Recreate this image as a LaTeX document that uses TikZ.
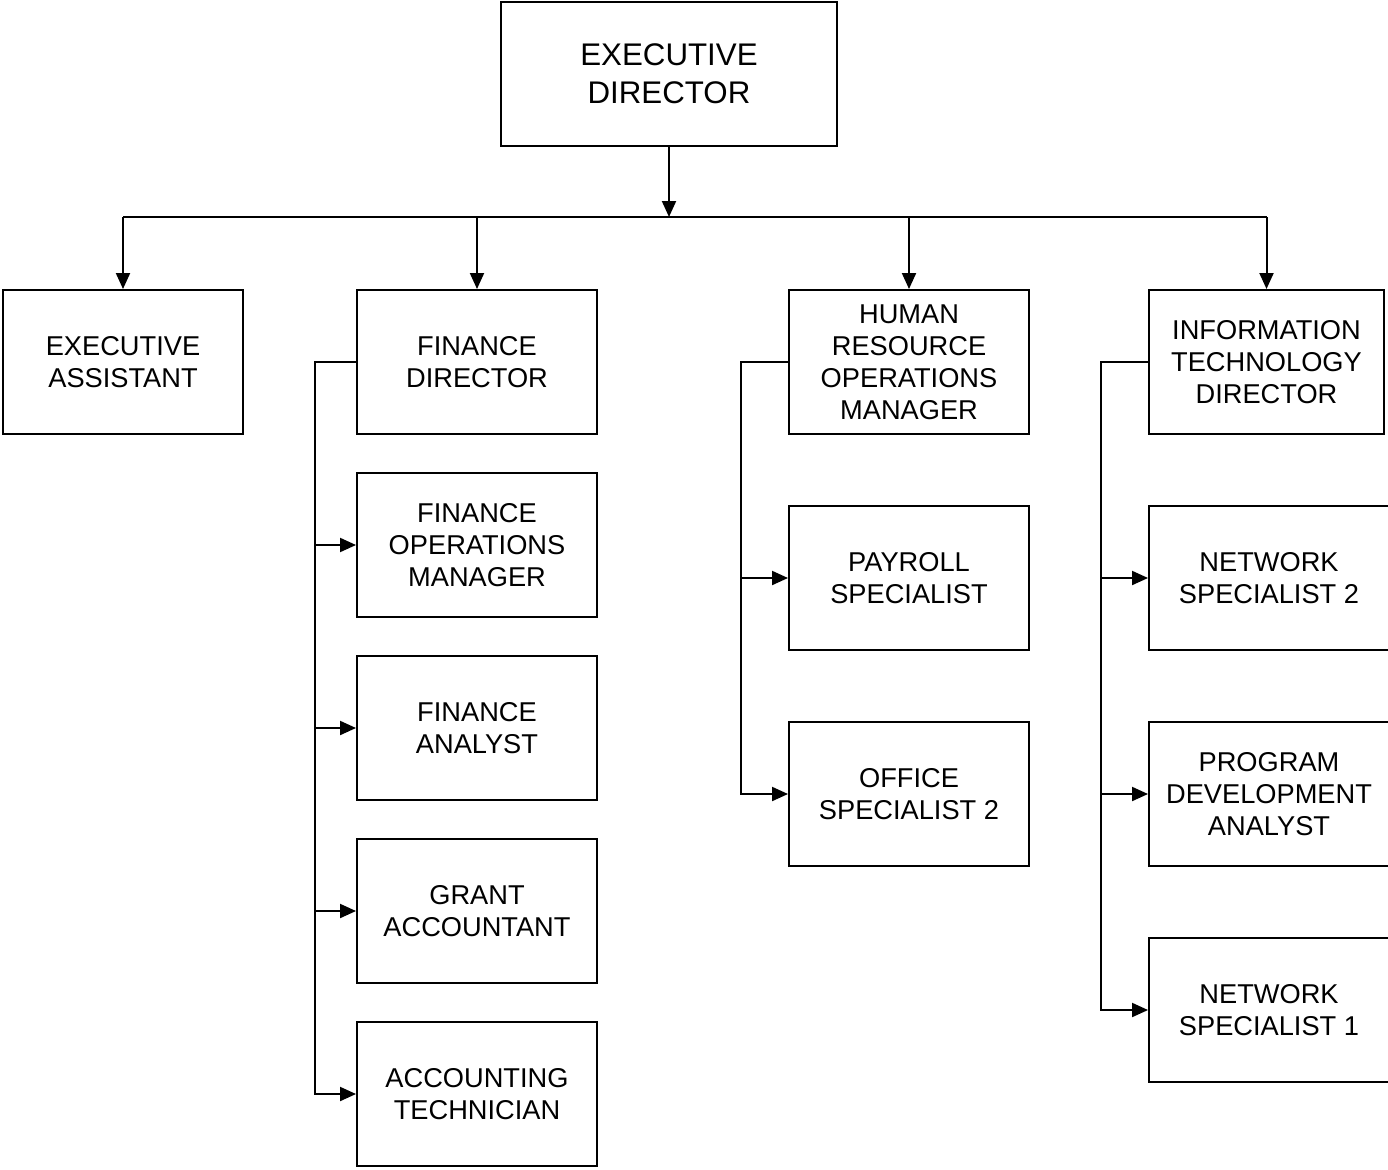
\documentclass[tikz,border=0pt]{standalone}
\usepackage{fontspec}
\setmainfont{Liberation Sans}
\usetikzlibrary{arrows.meta}
\tikzset{
  post/.style={box,minimum width=4.8cm},
  box/.style={draw,line width=0.04cm,align=center,minimum height=2.88cm,inner sep=0pt,
    font=\fontsize{15.5}{18.2}\selectfont},
  link/.style={line width=0.04cm,-{Triangle[length=0.32cm,width=0.28cm]}},
}
\begin{document}
\begin{tikzpicture}[x=0.02cm,y=-0.02cm]
            \useasboundingbox (0,0) rectangle (1388,1169);
            \node[box,minimum width=6.72cm,font=\fontsize{17.8}{21.5}\selectfont] (ed) at (669,74) {EXECUTIVE\\DIRECTOR};
            \coordinate (bus) at (669,217);

            \node[post] (ea) at (123,362) {EXECUTIVE\\ASSISTANT};
            \node[post] (fd) at (477,362) {FINANCE\\DIRECTOR};
            \node[post] (hr) at (909,362) {HUMAN\\RESOURCE\\OPERATIONS\\MANAGER};
            \node[box,minimum width=4.7cm] (it) at (1266.5,362) {INFORMATION\\TECHNOLOGY\\DIRECTOR};

            \node[post] (fom) at (477,545) {FINANCE\\OPERATIONS\\MANAGER};
            \node[post] (fa) at (477,728) {FINANCE\\ANALYST};
            \node[post] (ga) at (477,911) {GRANT\\ACCOUNTANT};
            \node[post] (act) at (477,1094) {ACCOUNTING\\TECHNICIAN};

            \node[post] (pay) at (909,578) {PAYROLL\\SPECIALIST};
            \node[post] (off) at (909,794) {OFFICE\\SPECIALIST 2};

            \node[post] (ns2) at (1269,578) {NETWORK\\SPECIALIST 2};
            \node[post] (pda) at (1269,794) {PROGRAM\\DEVELOPMENT\\ANALYST};
            \node[post] (ns1) at (1269,1010) {NETWORK\\SPECIALIST 1};

            % top level
            \draw[link] (ed.south) -- (bus);
            \draw[line width=0.04cm] (ea.north |- bus) -- (it.north |- bus);
            \foreach \head in {ea, fd, hr, it} {
                \draw[link] (\head.north |- bus) -- (\head.north);
            }

            % finance
            \coordinate (fs) at (315,362);
            \draw[link] (fd.west) -- (fs) |- (act.west);
            \foreach \post in {fom, fa, ga} {
                \draw[link] (fs |- \post.west) -- (\post.west);
            }

            % human resource
            \coordinate (hs) at (741,362);
            \draw[link] (hr.west) -- (hs) |- (off.west);
            \draw[link] (hs |- pay.west) -- (pay.west);

            % information technology
            \coordinate (is) at (1101,362);
            \draw[link] (it.west) -- (is) |- (ns1.west);
            \foreach \post in {ns2, pda} {
                \draw[link] (is |- \post.west) -- (\post.west);
            }
        \end{tikzpicture}
\end{document}
